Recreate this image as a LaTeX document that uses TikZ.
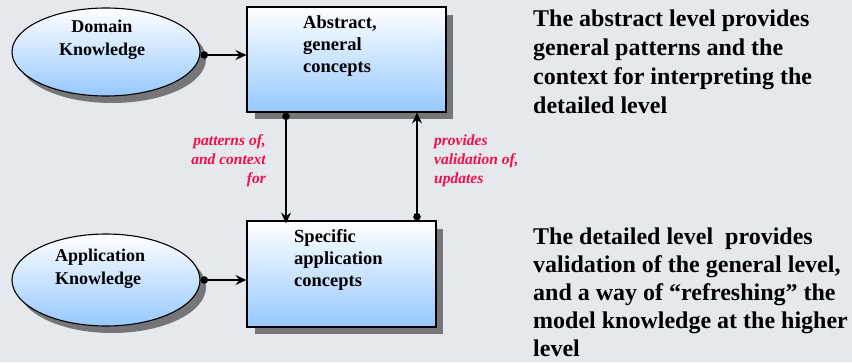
\documentclass[tikz,border=0pt]{standalone}
\usepackage{fontspec}
\setmainfont{Liberation Serif}
\usetikzlibrary{arrows.meta,shapes.geometric}
\definecolor{bgcol}{RGB}{229,233,237}
\definecolor{shadowcol}{RGB}{118,118,120}
\definecolor{fillblue}{RGB}{150,200,255}
\definecolor{labelred}{RGB}{245,12,72}
\tikzset{
  conceptbox/.style={draw=black, line width=1.1pt, top color=white, bottom color=fillblue},
  knowledge/.style={draw=black, line width=1.1pt, top color=white, bottom color=fillblue},
  dropshadow/.style={fill=shadowcol, draw=none},
  boxtext/.style={font=\bfseries\fontsize{18.5}{21.8}\selectfont, align=left, inner sep=0pt},
  elltext/.style={font=\bfseries\fontsize{18}{22.5}\selectfont, inner sep=0pt},
  linklabel/.style={font=\bfseries\itshape\fontsize{15.5}{19}\selectfont, text=labelred, inner sep=0pt},
  sidetext/.style={font=\bfseries\fontsize{24}{29}\selectfont, align=left, inner sep=0pt, anchor=base west},
  flow/.style={line width=1.1pt, {Circle[length=7.5pt]}-{Stealth[length=11pt,width=10pt,inset=4pt]}},
}
\begin{document}
\begin{tikzpicture}[x=1pt,y=-1pt]
  % canvas
  \fill[bgcol] (0,0) rectangle (852,362);
  \useasboundingbox (0,0) rectangle (852,362);

  % drop shadows
  \fill[dropshadow] (112,59) ellipse [x radius=94, y radius=44];
  \fill[dropshadow] (112,287) ellipse [x radius=94, y radius=46];
  \fill[dropshadow] (255,15) rectangle (453,119);
  \fill[dropshadow] (255,229) rectangle (443,334);

  % knowledge sources (multi-line nodes are placed by their last baseline)
  \node[knowledge, ellipse, minimum width=188pt, minimum height=88pt, inner sep=0pt] (domain) at (106,52) {};
  \node[elltext, align=center, anchor=base] at (102,55) {Domain\\Knowledge};
  \node[knowledge, ellipse, minimum width=188pt, minimum height=92pt, inner sep=0pt] (appl) at (106,280) {};
  \node[elltext, align=left, anchor=base west] at (55,284) {Application\\Knowledge};

  % concept levels
  \node[conceptbox, rectangle, minimum width=199pt, minimum height=105pt, inner sep=0pt] (abstract) at (346.5,59.5) {};
  \node[boxtext, anchor=base west] at (303,72.5) {Abstract,\\general\\concepts};
  \node[conceptbox, rectangle, minimum width=189pt, minimum height=106pt, inner sep=0pt] (specific) at (341.5,274) {};
  \node[boxtext, anchor=base west] at (294,286) {Specific\\application\\concepts};

  % connectors
  \draw[flow] (domain.east |- 0,55) -- (abstract.west |- 0,55);
  \draw[flow] (appl.east |- 0,280) -- (specific.west |- 0,280);
  \coordinate (downtop) at (abstract.south -| 286,0);
  \coordinate (downbot) at (specific.north -| 286,0);
  \coordinate (uptop) at (abstract.south -| 417,0);
  \coordinate (upbot) at (specific.north -| 417,0);
  \draw[flow] (downtop) -- ([yshift=-3pt]downbot);
  \draw[flow] (upbot) -- (uptop);

  % connector labels
  \node[linklabel, align=right, anchor=base east] (lbldown) at (266,183) {patterns of,\\and context\\for};
  \node[linklabel, align=left, anchor=base west] (lblup) at (434,183) {provides\\validation of,\\updates};

  % explanations
  \node[sidetext] (abstxt) at (533,113) {The abstract level provides\\general patterns and the\\context for interpreting the\\detailed level};
  \node[sidetext, font=\bfseries\fontsize{24}{27.8}\selectfont] (dettxt) at (533,356) {The detailed level\ \ provides\\validation of the general level,\\and a way of “refreshing” the\\model knowledge at the higher\\level};
\end{tikzpicture}
\end{document}
